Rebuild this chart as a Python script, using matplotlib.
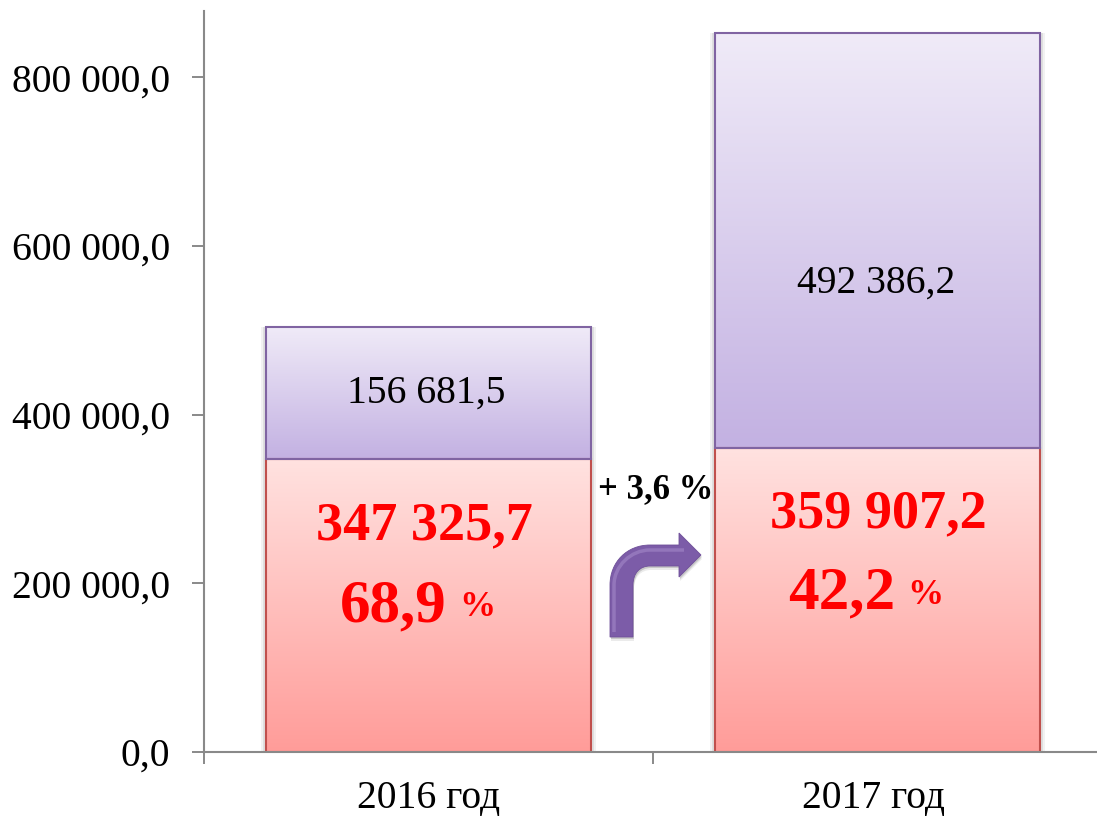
import numpy as np
import matplotlib
matplotlib.use("Agg")
import matplotlib.pyplot as plt
from matplotlib.colors import LinearSegmentedColormap
from matplotlib.patches import PathPatch, Rectangle
from matplotlib.path import Path
from matplotlib.transforms import Affine2D

years = ["2016 год", "2017 год"]
lower_values = [347325.7, 359907.2]
upper_values = [156681.5, 492386.2]
lower_shares = ["68,9", "42,2"]
growth_label = "+ 3,6 %"
y_ticks = [0, 200000, 400000, 600000, 800000]

W, H = 1097, 818
SERIF = "Liberation Serif"


def fmt(v):
    return f"{v:,.1f}".replace(",", " ").replace(".", ",")


def gradient_bars(ax, bars, top_color, bottom_color):
    cmap = LinearSegmentedColormap.from_list("g", [top_color, bottom_color])
    grad = np.linspace(0, 1, 256).reshape(-1, 1)
    for b in bars:
        x0, y0 = b.get_x(), b.get_y()
        x1, y1 = x0 + b.get_width(), y0 + b.get_height()
        # soft shadow around the bar
        for pad, alpha in [(0.012, 0.05), (0.006, 0.08)]:
            ax.add_patch(Rectangle((x0 - pad, y0), x1 - x0 + 2 * pad, y1 - y0,
                                   fc="black", ec="none", alpha=alpha, zorder=1.5))
        ax.imshow(grad, cmap=cmap, extent=(x0, x1, y0, y1), aspect="auto",
                  origin="upper", zorder=2)


fig = plt.figure(figsize=(W / 100, H / 100), dpi=100)
ax = fig.add_axes([204 / W, (H - 752) / H, 898 / W, 741 / H])
px = Affine2D().scale(1 / W, -1 / H).translate(0, 1) + fig.transFigure

x = np.arange(len(years)) + 0.5
bar_w = 0.724
low = ax.bar(x, lower_values, bar_w, fc="none", ec="#C0504D", lw=1.5, zorder=3)
up = ax.bar(x, upper_values, bar_w, bottom=lower_values, fc="none", ec="#8064A2", lw=1.5, zorder=3)
gradient_bars(ax, low, "#FFE2E0", "#FF9C99")
gradient_bars(ax, up, "#F0EBF8", "#C3B1E2")

ax.set_xlim(0, 2)
ax.set_ylim(0, 878700)
ax.set_xticks([0, 1, 2])
ax.set_xticklabels([])
ax.set_yticks(y_ticks)
ax.set_yticklabels([fmt(v) for v in y_ticks], fontsize=28.5, family=SERIF)
ax.tick_params(axis="both", length=8.5, width=1.4, color="#898989")
ax.tick_params(axis="y", pad=16)
for s in ["top", "right"]:
    ax.spines[s].set_visible(False)
for s in ["left", "bottom"]:
    ax.spines[s].set_color("#898989")
    ax.spines[s].set_linewidth(1.5)
    ax.spines[s].set_zorder(4)

# category labels sit a bit off the bar centres in the original
for label, xp in zip(years, [429, 874]):
    fig.text(xp, 799, label, transform=px, ha="center", va="center", fontsize=28.5, family=SERIF)

for i, (xp, yp) in enumerate([(426, 393), (876, 283)]):
    fig.text(xp, yp, fmt(upper_values[i]), transform=px, ha="center", va="center",
             fontsize=28.5, family=SERIF, color="black", zorder=5)

red = "#FF0000"
for i, (xp, yp) in enumerate([(424.5, 526), (878, 514)]):
    fig.text(xp, yp, fmt(lower_values[i]), transform=px, ha="center", va="center",
             fontsize=39, family=SERIF, weight="bold", color=red, zorder=5)
for i, (xp, yp, pct_x) in enumerate([(340, 606, 459), (788, 593, 907)]):
    fig.text(xp, yp, lower_shares[i], transform=px, ha="left", va="center",
             fontsize=44, family=SERIF, weight="bold", color=red, zorder=5)
    fig.text(pct_x, yp + 2, "%", transform=px, ha="left", va="center",
             fontsize=26, family=SERIF, weight="bold", color=red, zorder=5)

fig.text(656, 490, growth_label, transform=px, ha="center", va="center",
         fontsize=25, family=SERIF, weight="bold", color="black", zorder=5)

# bent arrow between the columns
verts = [(610, 637), (610, 585), (610, 562), (627, 545), (650, 545), (679, 545), (679, 533),
         (701, 555), (679, 577), (679, 566), (650, 566), (640, 566), (633, 573), (633, 585),
         (633, 637), (610, 637)]
codes = [Path.MOVETO, Path.LINETO, Path.CURVE4, Path.CURVE4, Path.CURVE4, Path.LINETO, Path.LINETO,
         Path.LINETO, Path.LINETO, Path.LINETO, Path.LINETO, Path.CURVE4, Path.CURVE4, Path.CURVE4,
         Path.LINETO, Path.CLOSEPOLY]
arrow = Path(verts, codes)
for dx, dy, alpha in [(1, 4, 0.08), (1, 2, 0.15)]:
    fig.add_artist(PathPatch(arrow, transform=Affine2D().translate(dx, dy) + px,
                             fc="black", ec="none", alpha=alpha))
fig.add_artist(PathPatch(arrow, transform=px, fc="#7C5CA8", ec="#6F5099", lw=0.6))
bevel = Path([(614, 632), (614, 585), (614, 566), (631, 550), (650, 550), (684, 550)],
             [Path.MOVETO, Path.LINETO, Path.CURVE4, Path.CURVE4, Path.CURVE4, Path.LINETO])
fig.add_artist(PathPatch(bevel, transform=px, fc="none", ec="#9A7DC0", lw=2.5, alpha=0.8))

fig.savefig("out.png", dpi=100)
